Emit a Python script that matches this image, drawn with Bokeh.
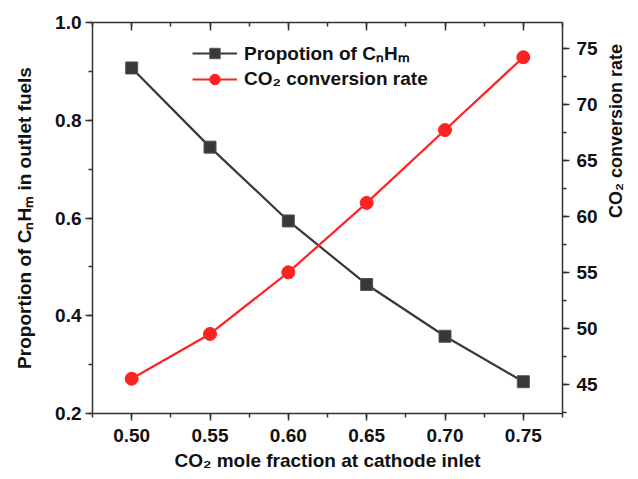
import math
from bokeh.plotting import figure
from bokeh.models import (Range1d, LinearAxis, SingleIntervalTicker, NumeralTickFormatter,
                          Legend, LegendItem, CustomJSTickFormatter)
from bokeh.embed import file_html
from bokeh.resources import INLINE

# ---- data ----
co2_mole_fraction = [0.50, 0.55, 0.60, 0.65, 0.70, 0.75]
proportion_cnhm = [0.907, 0.745, 0.594, 0.464, 0.358, 0.265]
co2_conversion = [45.5, 49.5, 55.0, 61.2, 67.7, 74.2]

x_label = "CO\u2082 mole fraction at cathode inlet"
y_left_label = "Proportion of C\u2099H\u2098 in outlet fuels"
y_right_label = "CO\u2082 conversion rate"
series_names = ["Propotion of C\u2099H\u2098", "CO\u2082 conversion rate"]

FONT = "Liberation Sans"
AX_COLOR = "#333333"
BLACK = "#383838"
RED = "#ff2222"

p = figure(width=638, height=479, output_backend="svg", toolbar_location=None,
           x_range=Range1d(0.475, 0.775), y_range=Range1d(0.2, 1.0),
           min_border_left=92, min_border_right=71, min_border_top=22, min_border_bottom=66)
p.extra_y_ranges = {"conv": Range1d(42.4, 77.3)}
p.xgrid.visible = False
p.ygrid.visible = False
p.outline_line_color = None
p.background_fill_color = "white"
p.border_fill_color = "white"


def style_axis(ax, ticker, tick_in=0, tick_out=7, label_size="19px", title_size="19px"):
    ax.ticker = ticker
    ax.axis_line_color = AX_COLOR
    ax.axis_line_width = 1.5
    ax.major_tick_line_color = AX_COLOR
    ax.major_tick_line_width = 1.5
    ax.minor_tick_line_color = AX_COLOR
    ax.minor_tick_line_width = 1.5
    ax.major_tick_in = tick_in
    ax.major_tick_out = tick_out
    ax.minor_tick_in = 4 if tick_in else 0
    ax.minor_tick_out = 4 if tick_out else 0
    ax.major_label_text_font = FONT
    ax.major_label_text_font_style = "bold"
    ax.major_label_text_font_size = label_size
    ax.major_label_text_color = "#111111"
    ax.axis_label_text_font = FONT
    ax.axis_label_text_font_style = "bold"
    ax.axis_label_text_font_size = title_size
    ax.axis_label_text_color = "#111111"


xb = p.xaxis[0]
style_axis(xb, SingleIntervalTicker(interval=0.05, num_minor_ticks=2))
xb.formatter = NumeralTickFormatter(format="0.00")
xb.axis_label = x_label
xb.major_label_standoff = 8
xb.axis_label_standoff = 5

yl = p.yaxis[0]
style_axis(yl, SingleIntervalTicker(interval=0.2, num_minor_ticks=2))
yl.formatter = NumeralTickFormatter(format="0.0")
yl.axis_label = y_left_label
yl.major_label_standoff = 4
yl.axis_label_standoff = 17

yr = LinearAxis(y_range_name="conv")
style_axis(yr, SingleIntervalTicker(interval=5, num_minor_ticks=2), title_size="18px")
yr.formatter = NumeralTickFormatter(format="0")
yr.axis_label = y_right_label
yr.axis_label_orientation = math.pi / 2
yr.major_label_standoff = 7
yr.axis_label_standoff = 15
p.add_layout(yr, "right")

xt = LinearAxis()
style_axis(xt, SingleIntervalTicker(interval=0.05, num_minor_ticks=2), tick_in=8, tick_out=0)
xt.formatter = CustomJSTickFormatter(code="return ''")
p.add_layout(xt, "above")

l1 = p.line(co2_mole_fraction, proportion_cnhm, line_color=BLACK, line_width=2.2)
s1 = p.scatter(co2_mole_fraction, proportion_cnhm, marker="square", size=12,
               fill_color=BLACK, line_color="#555555", line_width=1)
l2 = p.line(co2_mole_fraction, co2_conversion, line_color=RED, line_width=2.2, y_range_name="conv")
s2 = p.scatter(co2_mole_fraction, co2_conversion, marker="circle", size=13,
               fill_color=RED, line_color=RED, y_range_name="conv")

legend = Legend(items=[LegendItem(label=series_names[0], renderers=[l1, s1]),
                       LegendItem(label=series_names[1], renderers=[l2, s2])],
                location=(100, 321), glyph_width=45, glyph_height=26, label_height=26,
                spacing=0, padding=0, margin=0, border_line_color=None,
                background_fill_alpha=0, label_text_font=FONT, label_text_font_style="bold",
                label_text_font_size="19px", label_text_color="#111111", label_standoff=7)
p.add_layout(legend)

open("out.html", "w").write(file_html(p, INLINE))
